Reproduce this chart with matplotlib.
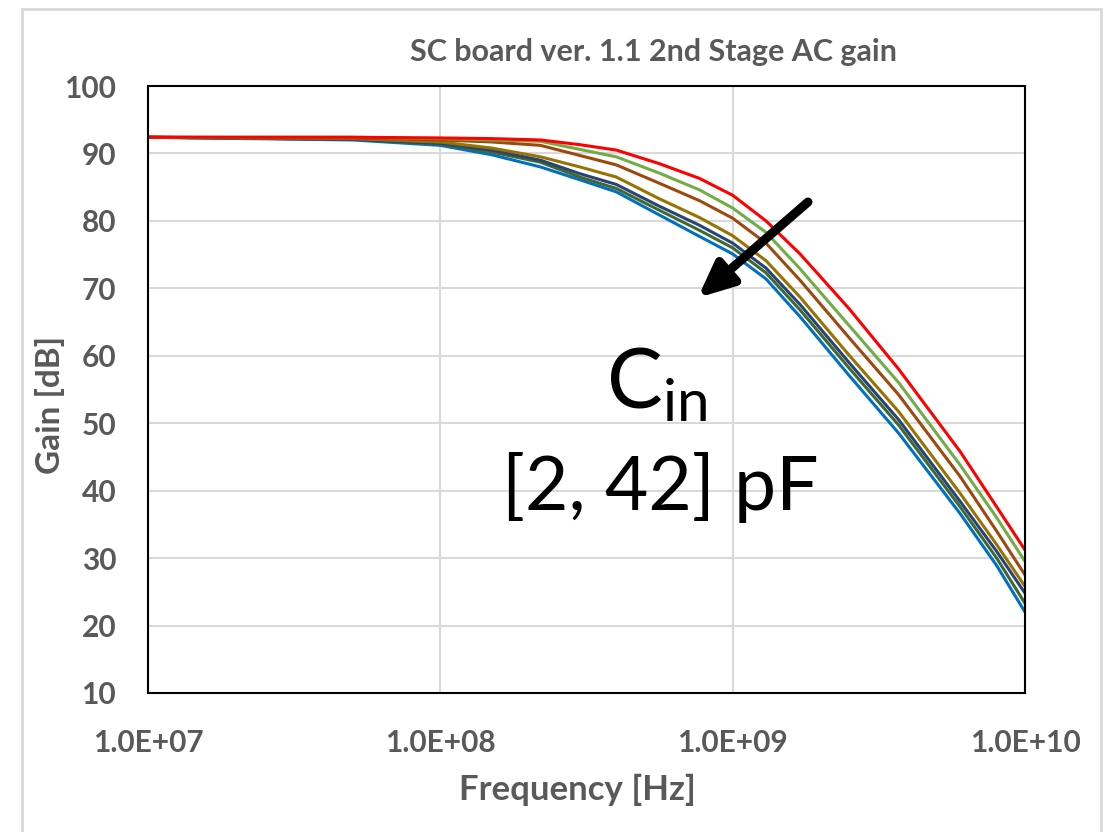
import numpy as np
import matplotlib
matplotlib.use("Agg")
from matplotlib import pyplot as plt
from matplotlib.patches import Rectangle

plt.rcParams['font.family'] = ['Lato', 'DejaVu Sans']

# frequencies [Hz] and gain [dB]
freq = [1e7, 5e7, 1e8, 1.5e8, 2.2e8, 3e8, 4e8, 5.6e8, 7.7e8, 1e9, 1.3e9, 1.7e9,
        2.5e9, 3.7e9, 6e9, 8e9, 1e10]
gain_red = [92.4, 92.4, 92.3, 92.2, 92.0, 91.3, 90.5, 88.5, 86.3, 83.8, 80.0, 75.1,
            67.0, 58.0, 45.8, 37.6, 31.2]
gain_green = [92.4, 92.4, 92.2, 92.0, 91.8, 90.6, 89.5, 87.1, 84.6, 81.9, 78.3, 72.9,
              64.5, 56.0, 43.8, 36.0, 29.5]
gain_brown = [92.4, 92.3, 92.0, 91.7, 91.2, 89.7, 88.3, 85.6, 83.0, 80.4, 76.7, 71.2,
              62.7, 54.2, 42.1, 34.0, 27.5]
gain_gold = [92.4, 92.2, 91.7, 90.8, 89.5, 88.0, 86.5, 83.3, 80.5, 77.8, 74.1, 68.7,
             60.1, 51.7, 39.6, 32.0, 25.8]
gain_navy = [92.4, 92.1, 91.5, 90.5, 89.0, 87.0, 85.4, 82.2, 79.35, 76.7, 73.0, 67.6,
             59.0, 50.5, 38.4, 31.0, 24.8]
gain_dkgreen = [92.4, 92.1, 91.4, 90.2, 88.7, 86.5, 84.8, 81.6, 78.6, 76.0, 72.3, 66.8,
                58.2, 49.7, 37.6, 30.0, 23.3]
gain_blue = [92.4, 92.0, 91.2, 89.8, 88.0, 86.1, 84.3, 80.9, 77.7, 75.1, 71.4, 65.8,
             57.1, 48.5, 36.6, 28.9, 22.0]

series = [gain_blue, gain_dkgreen, gain_navy, gain_gold, gain_brown, gain_green, gain_red]
colors = ['#0070C0', '#43682B', '#264478', '#997300', '#9E480E', '#70AD47', '#FF0000']

xticks = [1e7, 1e8, 1e9, 1e10]
xticklabels = ['1.0E+07', '1.0E+08', '1.0E+09', '1.0E+10']
yticks = list(range(10, 101, 10))

gray = '#595959'

fig = plt.figure(figsize=(11.12, 8.32), dpi=100)
# chart area border
fig.patches.append(Rectangle((22/1112, -0.05), (1101-22)/1112, 1.05 - 9/832,
                             transform=fig.transFigure, fill=False,
                             edgecolor='#D9D9D9', linewidth=2))

ax = fig.add_axes([148/1112, 1 - 693/832, (1025-148)/1112, (693-86)/832])

for g, c in zip(series, colors):
    ax.plot(freq, g, color=c, linewidth=2.2)

ax.set_xscale('log')
ax.set_xlim(1e7, 1e10)
ax.set_ylim(10, 100)
ax.set_xticks(xticks)
ax.set_xticklabels(xticklabels)
ax.minorticks_off()
ax.set_yticks(yticks)
ax.grid(True, color='#D9D9D9', linewidth=1.5)
ax.set_axisbelow(True)
for s in ax.spines.values():
    s.set_color('black')
    s.set_linewidth(1.5)
ax.tick_params(length=0, labelsize=21.5, labelcolor=gray)
ax.tick_params(axis='x', pad=26)
ax.tick_params(axis='y', pad=23)
for lbl in ax.get_xticklabels() + ax.get_yticklabels():
    lbl.set_fontweight('bold')

fig.text(577/1112, 1 - 790/832, 'Frequency [Hz]', fontsize=25, fontweight='bold',
         color=gray, ha='center', va='center')
fig.text(50/1112, 1 - 405/832, 'Gain [dB]', fontsize=24, fontweight='bold',
         color=gray, ha='center', va='center', rotation=90)

fig.text(653/1112, 1 - 52/832, 'SC board ver. 1.1 2nd Stage AC gain',
         ha='center', va='center', fontsize=22, fontweight='bold', color=gray)

ax.annotate('', xy=(7.6e8, 68.6), xytext=(1.81e9, 82.8),
            arrowprops=dict(arrowstyle='-|>,head_length=2.1,head_width=0.95',
                            color='black', linewidth=6.5, shrinkA=0, shrinkB=0))

ax.text(5.5e8, 52.2, r'C$_{\mathregular{in}}$', fontsize=60, ha='center', va='baseline')
ax.text(5.64e8, 40.4, '[2, 42] pF', fontsize=54, ha='center', va='center')

fig.savefig('out.png', dpi=100)
